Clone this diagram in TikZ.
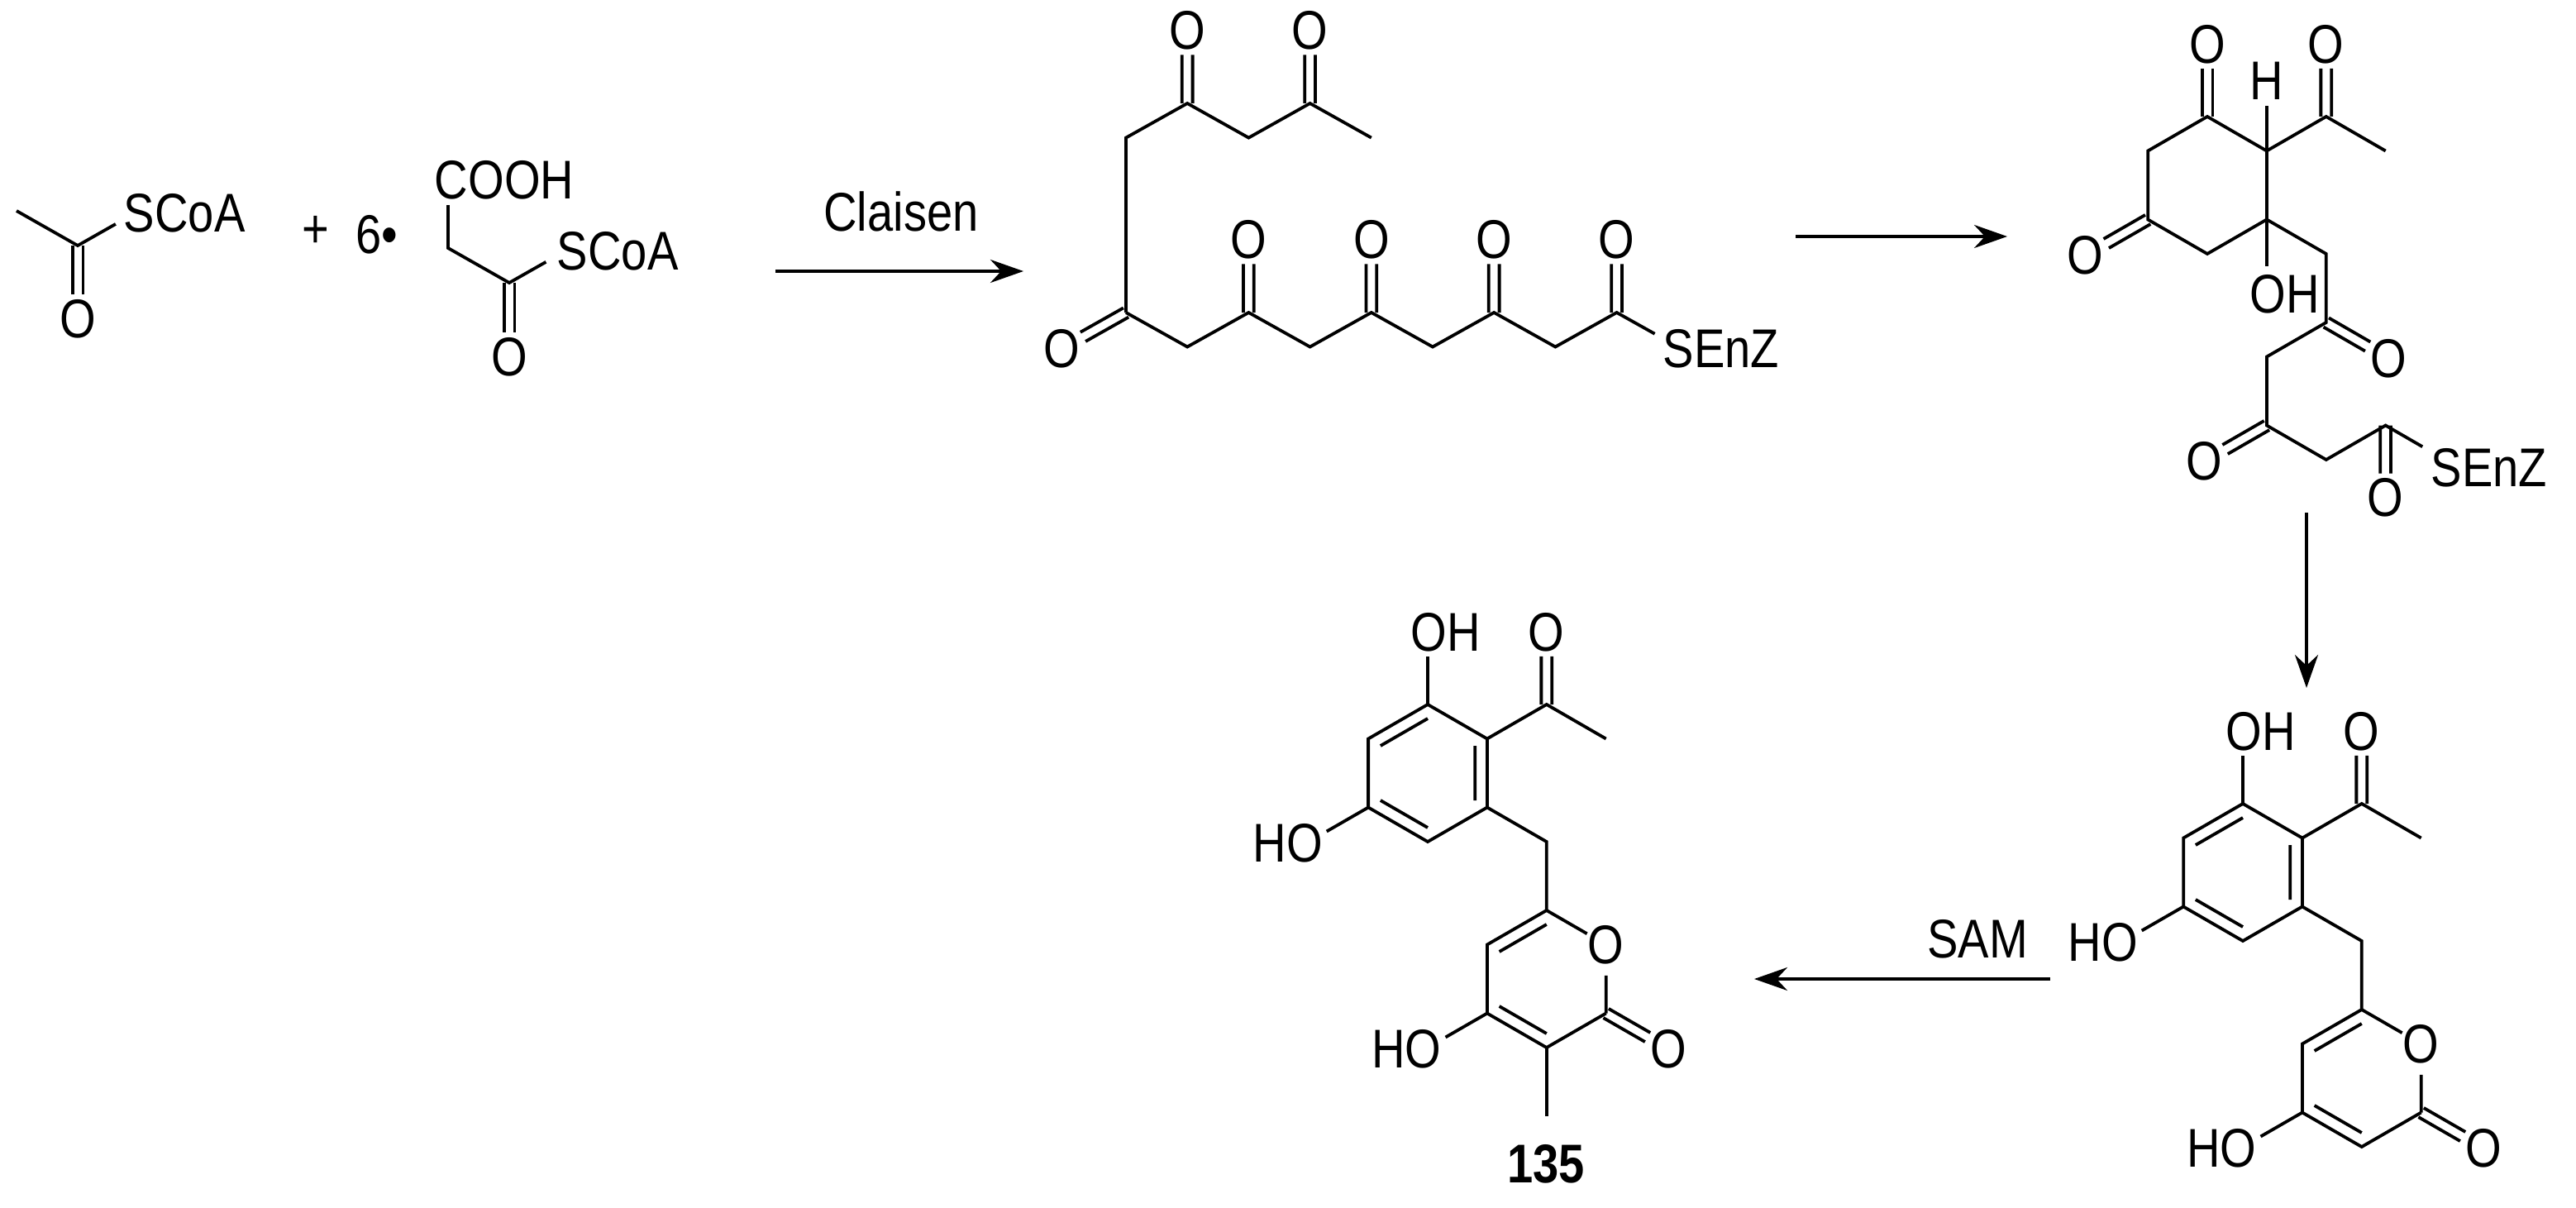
\documentclass[tikz,border=0pt]{standalone}
\usepackage{fontspec}
\setmainfont{Liberation Sans}[FakeStretch=0.85]
\usetikzlibrary{calc,arrows.meta}
\newcommand\mydb[2]{\draw ($(#1)!3.2pt!90:(#2)$) -- ($(#2)!3.2pt!-90:(#1)$); \draw ($(#1)!3.2pt!-90:(#2)$) -- ($(#2)!3.2pt!90:(#1)$);}
\newcommand\myodb[2]{\coordinate (tmpE) at ($(#1)!0.667!(#2)$); \mydb{#1}{tmpE}}
\newcommand\myob[2]{\draw (#1) -- ($(#1)!0.667!(#2)$);}
\newcommand\mydhp[1]{%
  \coordinate (c1) at (0,41.5); \coordinate (c2) at (35.94,20.75); \coordinate (c3) at (35.94,-20.75);
  \coordinate (c4) at (0,-41.5); \coordinate (c5) at (-35.94,-20.75); \coordinate (c6) at (-35.94,20.75);
  \draw (c1)--(c2)--(c3)--(c4)--(c5)--(c6)--cycle;
  \draw (90:33)--(150:33) (30:33)--(-30:33) (-90:33)--(-150:33);
  \coordinate (oh1) at (0,85.1); \myob{c1}{oh1}
  \node[anchor=west] (oh1t) at ($(oh1)+(-11,0)$) {OH};
  \coordinate (ac) at (71.88,41.5); \coordinate (aco) at (71.88,85.1); \coordinate (acm) at (107.82,20.75);
  \draw (c2)--(ac)--(acm); \myodb{ac}{aco} \node (acot) at (aco) {O};
  \coordinate (oh2) at (-73.7,-42.5); \myob{c5}{oh2}
  \node[anchor=east] (oh2t) at ($(oh2)+(11,0)$) {HO};
  \coordinate (ch) at (71.88,-41.5); \coordinate (p6) at (71.88,-83); \coordinate (pc) at (71.88,-124.5);
  \coordinate (por) at (107.82,-103.75); \coordinate (p2) at (107.82,-145.25); \coordinate (p3) at (71.88,-166);
  \coordinate (p4) at (35.94,-145.25); \coordinate (p5) at (35.94,-103.75);
  \draw (c3)--(ch)--(p6);
  \draw (p6) -- ($(p6)!0.68!(por)$); \draw ($(por)!0.45!(p2)$) -- (p2);
  \node (port) at (por) {O};
  \draw (p2)--(p3)--(p4)--(p5)--(p6);
  \draw ($(pc)+(90:33)$)--($(pc)+(150:33)$) ($(pc)+(-90:33)$)--($(pc)+(-150:33)$);
  \coordinate (exo) at (145.6,-167); \myodb{p2}{exo} \node (exot) at (exo) {O};
  \coordinate (oh3) at (-1.8,-167); \myob{p4}{oh3}
  \node[anchor=east] (oh3t) at ($(oh3)+(11,0)$) {HO};
  #1}
\begin{document}
\begin{tikzpicture}[x=1pt,y=1pt,line width=1.9pt,
  every node/.style={font=\fontsize{33}{35}\selectfont, inner sep=0pt},
  rxn/.style={-{Stealth[length=20pt,width=14pt]}}]
\useasboundingbox (0,0) rectangle (1558,-730.5);
% acetyl-CoA
\coordinate (a1) at (10,-127.5); \coordinate (a2) at (47,-148.5); \coordinate (aS) at (84,-127.5);
\coordinate (aO) at (47,-193);
\draw (a1)--(a2)--($(a2)!0.62!(aS)$); \myodb{a2}{aO}
\node (aOt) at (aO) {O};
\node[anchor=west] (aSt) at (74,-129) {SCoA};
\node (plus) at (191,-140) {+};
\node (six) at (228,-142) {6•};
% malonyl-CoA
\node[anchor=west] (cooh) at (262,-109) {COOH};
\coordinate (m1) at (271,-124); \coordinate (m2) at (271,-150); \coordinate (m3) at (308,-171);
\coordinate (mS) at (345,-150); \coordinate (mO) at (308,-216);
\draw (m1)--(m2)--(m3)--($(m3)!0.6!(mS)$); \myodb{m3}{mO}
\node (mOt) at (mO) {O};
\node[anchor=west] (mSt) at (336,-152) {SCoA};
% arrow 1
\node (claisen) at (545,-128) {Claisen};
\coordinate (r1a) at (469,-164); \coordinate (r1b) at (619,-164);
\draw[rxn] (r1a) -- (r1b);
% polyketide
\coordinate (t0) at (681,-189); \coordinate (t1) at (681,-83.3); \coordinate (t2) at (718.1,-62.5);
\coordinate (t3) at (755.2,-83.3); \coordinate (t4) at (792.3,-62.5); \coordinate (t5) at (829.4,-83.3);
\draw (t0)--(t1)--(t2)--(t3)--(t4)--(t5);
\coordinate (to2) at (718.1,-18.5); \coordinate (to4) at (792.3,-18.5);
\myodb{t2}{to2} \myodb{t4}{to4}
\node (to2t) at (to2) {O}; \node (to4t) at (to4) {O};
\coordinate (b1) at (718.1,-209.75); \coordinate (b2) at (755.2,-189); \coordinate (b3) at (792.3,-209.75);
\coordinate (b4) at (829.4,-189); \coordinate (b5) at (866.5,-209.75); \coordinate (b6) at (903.6,-189);
\coordinate (b7) at (940.7,-209.75); \coordinate (b8) at (977.8,-189); \coordinate (bS) at (1014.9,-209.75);
\draw (t0)--(b1)--(b2)--(b3)--(b4)--(b5)--(b6)--(b7)--(b8)--($(b8)!0.62!(bS)$);
\coordinate (bo0) at (642,-211); \myodb{t0}{bo0} \node (bo0t) at (bo0) {O};
\foreach \n in {2,4,6,8}{
  \coordinate (bo\n) at ($(b\n)+(0,44)$); \myodb{b\n}{bo\n} \node at (bo\n) {O};}
\node[anchor=west] (bSt) at (1005,-211) {SEnZ};
% arrow 2
\coordinate (r2a) at (1086,-143); \coordinate (r2b) at (1214,-143);
\draw[rxn] (r2a) -- (r2b);
% cyclized intermediate
\begin{scope}[shift={(1335,-112)}]
  \coordinate (r1) at (0,41.5); \coordinate (r2) at (35.94,20.75); \coordinate (r3) at (35.94,-20.75);
  \coordinate (r4) at (0,-41.5); \coordinate (r5) at (-35.94,-20.75); \coordinate (r6) at (-35.94,20.75);
  \draw (r1)--(r2)--(r3)--(r4)--(r5)--(r6)--cycle;
  \coordinate (ro1) at (0,85.1); \myodb{r1}{ro1} \node (ro1t) at (ro1) {O};
  \coordinate (ro5) at (-73.7,-42.5); \myodb{r5}{ro5} \node (ro5t) at (ro5) {O};
  \draw (r2) -- (35.94,48); \node (rH) at (35.94,63) {H};
  \coordinate (rac) at (71.88,41.5); \coordinate (raco) at (71.88,85.1); \coordinate (racm) at (107.82,20.75);
  \draw (r2)--(rac)--(racm); \myodb{rac}{raco} \node (racot) at (raco) {O};
  \draw (r3) -- (35.94,-49); \node[anchor=west] (rOH) at (25,-66) {OH};
  \coordinate (k1) at (71.88,-41.5); \coordinate (k2) at (71.88,-83); \coordinate (k3) at (35.94,-103.75);
  \coordinate (k4) at (35.94,-145.25); \coordinate (k5) at (71.88,-166); \coordinate (k6) at (107.82,-145.25);
  \coordinate (kS) at (143.76,-166);
  \draw (r3)--(k1)--(k2)--(k3)--(k4)--(k5)--(k6)--($(k6)!0.62!(kS)$);
  \coordinate (ko2) at (109.6,-104.8); \myodb{k2}{ko2} \node (ko2t) at (ko2) {O};
  \coordinate (ko4) at (-1.8,-167); \myodb{k4}{ko4} \node (ko4t) at (ko4) {O};
  \coordinate (ko6) at (107.82,-188.8); \myodb{k6}{ko6} \node (ko6t) at (ko6) {O};
  \node[anchor=west] (kSt) at (134.4,-171) {SEnZ};
\end{scope}
% arrow 3
\coordinate (r3a) at (1395,-310); \coordinate (r3b) at (1395,-416);
\draw[rxn] (r3a) -- (r3b);
% product 4
\begin{scope}[shift={(1356.5,-527.5)}]
  \mydhp{}
\end{scope}
% SAM arrow
\node (sam) at (1196,-568) {SAM};
\coordinate (r4a) at (1240,-592); \coordinate (r4b) at (1061,-592);
\draw[rxn] (r4a) -- (r4b);
% 135
\begin{scope}[shift={(863.5,-467.5)}]
  \mydhp{\coordinate (me) at (71.88,-207.5); \draw (p3)--(me);}
\end{scope}
\node[font=\fontsize{33}{35}\selectfont\bfseries] (lab) at (935,-704) {135};
\end{tikzpicture}
\end{document}
